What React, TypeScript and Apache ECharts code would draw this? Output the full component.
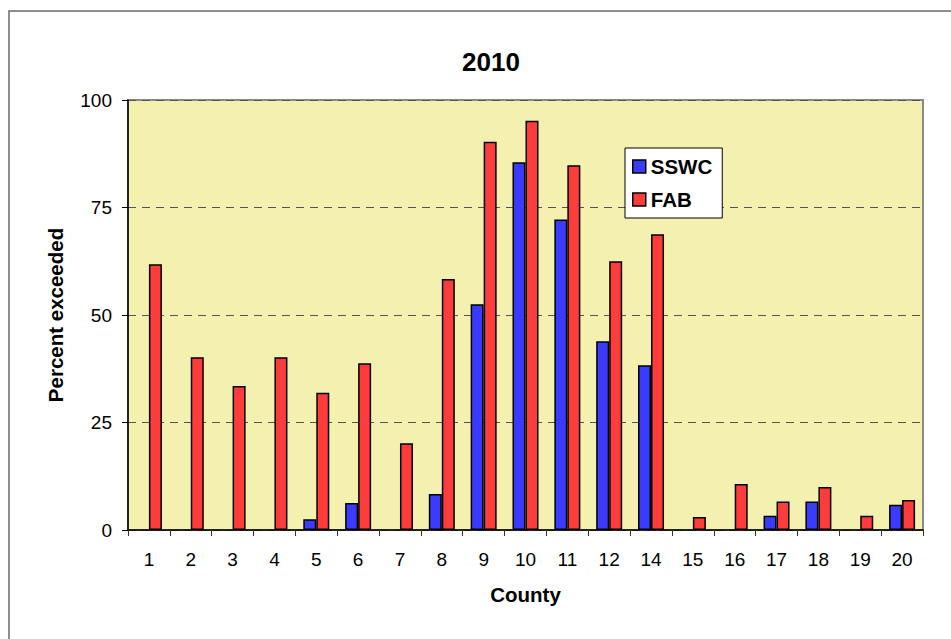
import React, { useEffect, useRef } from "react";
import * as echarts from "echarts";

const categories = ["1", "2", "3", "4", "5", "6", "7", "8", "9", "10", "11", "12", "14", "15", "16", "17", "18", "19", "20"];
const sswc = [null, null, null, null, 2.5, 6.3, null, 8.4, 52.5, 85.5, 72.2, 43.9, 38.3, null, null, 3.3, 6.6, null, 5.9];
const fab = [61.8, 40.2, 33.5, 40.2, 31.9, 38.8, 20.2, 58.4, 90.3, 95.2, 84.8, 62.5, 68.8, 3.0, 10.7, 6.6, 10.0, 3.3, 7.0];
const yTicks = { min: 0, max: 100, interval: 25 };

const FONT = "'Liberation Sans', Arial, sans-serif";

export default function App() {
  const ref = useRef<HTMLDivElement>(null);
  useEffect(() => {
    if (!ref.current) return;
    const chart = echarts.init(ref.current, null, { renderer: "svg" });
    chart.setOption({
      animation: false,
      backgroundColor: "#ffffff",
      textStyle: { fontFamily: FONT },
      title: {
        text: "2010",
        left: 486,
        textAlign: "center",
        top: 44,
        textStyle: { fontFamily: FONT, fontWeight: "bold", fontSize: 26, color: "#000" },
      },
      graphic: [
        {
          type: "rect",
          shape: { x: 9, y: 11, width: 1000, height: 700 },
          style: { fill: "none", stroke: "#6a6a6a", lineWidth: 1.5 },
          silent: true,
        },
      ],
      legend: {
        orient: "vertical",
        left: 625,
        top: 148,
        backgroundColor: "#ffffff",
        borderColor: "#000",
        borderWidth: 1,
        borderRadius: 0,
        padding: [8, 10, 8, 7],
        itemWidth: 13,
        itemHeight: 13,
        itemGap: 12,
        icon: "rect",
        itemStyle: { borderColor: "#000", borderWidth: 1.5 },
        textStyle: { fontFamily: FONT, fontWeight: "bold", fontSize: 20.5, color: "#000" },
        data: ["SSWC", "FAB"],
      },
      grid: {
        left: 128,
        top: 100,
        width: 795,
        height: 430,
        show: true,
        backgroundColor: "#f3f0b0",
        borderColor: "#8a8a8a",
        borderWidth: 2,
      },
      xAxis: {
        type: "category",
        data: categories,
        name: "County",
        nameLocation: "middle",
        nameGap: 54,
        nameTextStyle: { fontFamily: FONT, fontWeight: "bold", fontSize: 20.5, color: "#000" },
        axisLine: { lineStyle: { color: "#000", width: 1.5 } },
        axisTick: { show: true, length: 6, lineStyle: { color: "#333", width: 1 } },
        axisLabel: { fontFamily: FONT, fontSize: 19, color: "#000", margin: 20 },
      },
      yAxis: {
        type: "value",
        min: yTicks.min,
        max: yTicks.max,
        interval: yTicks.interval,
        name: "Percent exceeded",
        nameLocation: "middle",
        nameGap: 62,
        nameTextStyle: { fontFamily: FONT, fontWeight: "bold", fontSize: 20.5, color: "#000" },
        axisLine: { show: true, lineStyle: { color: "#000", width: 1.5 } },
        axisTick: { show: true, length: 6, lineStyle: { color: "#000", width: 1 } },
        axisLabel: { fontFamily: FONT, fontSize: 19, color: "#000", margin: 16 },
        splitLine: { show: true, lineStyle: { color: "#555", type: [8, 6], width: 1 } },
      },
      series: [
        {
          name: "SSWC",
          type: "bar",
          data: sswc,
          barWidth: 13,
          barGap: "0%",
          itemStyle: { color: "#3b3bff", borderColor: "#000", borderWidth: 1.5 },
        },
        {
          name: "FAB",
          type: "bar",
          data: fab,
          barWidth: 13,
          barGap: "0%",
          itemStyle: { color: "#ff3c3c", borderColor: "#000", borderWidth: 1.5 },
        },
      ],
    });
    return () => chart.dispose();
  }, []);
  return <div ref={ref} style={{ position: "fixed", left: 0, top: 0, width: 951, height: 639 }} />;
}
